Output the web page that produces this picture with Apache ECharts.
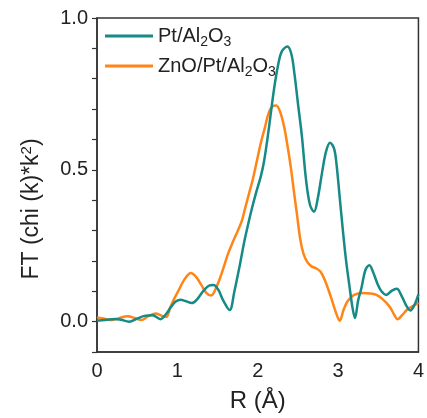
<!DOCTYPE html>
<html>
<head>
<meta charset="utf-8">
<script src="https://cdn.jsdelivr.net/npm/echarts@6/dist/echarts.min.js"></script>
<style>html,body{margin:0;padding:0;background:#fff}#c{width:427px;height:418px}</style>
</head>
<body>
<div id="c"></div>
<script>
var seriesNames = ['Pt/Al2O3', 'ZnO/Pt/Al2O3'];
var xTicks = [0, 1, 2, 3, 4];
var yTickLabels = ['0.0', '0.5', '1.0'];

var ptAl2O3 = [[0,0.003],[0.1,0.005],[0.22,0.009],[0.3,0.006],[0.4,0.0],[0.5,0.01],[0.59,0.019],[0.69,0.021],[0.79,0.008],[0.86,0.025],[0.92,0.048],[0.98,0.066],[1.04,0.072],[1.1,0.068],[1.18,0.061],[1.25,0.075],[1.32,0.10],[1.39,0.118],[1.45,0.121],[1.51,0.105],[1.57,0.07],[1.65,0.038],[1.71,0.10],[1.78,0.19],[1.83,0.26],[1.88,0.32],[1.93,0.375],[1.98,0.425],[2.04,0.48],[2.08,0.53],[2.12,0.6],[2.16,0.68],[2.2,0.76],[2.25,0.84],[2.3,0.89],[2.37,0.906],[2.42,0.88],[2.46,0.81],[2.5,0.72],[2.55,0.61],[2.6,0.47],[2.65,0.385],[2.7,0.362],[2.75,0.41],[2.8,0.49],[2.85,0.56],[2.9,0.589],[2.95,0.57],[2.98,0.52],[3.02,0.41],[3.06,0.3],[3.1,0.2],[3.14,0.12],[3.18,0.045],[3.21,0.012],[3.25,0.07],[3.29,0.11],[3.34,0.17],[3.39,0.186],[3.44,0.16],[3.49,0.125],[3.54,0.1],[3.6,0.088],[3.67,0.102],[3.73,0.108],[3.79,0.085],[3.85,0.052],[3.9,0.037],[3.95,0.055],[4.0,0.09]];

var znoPtAl2O3 = [[0,0.014],[0.08,0.01],[0.18,0.005],[0.28,0.012],[0.38,0.018],[0.47,0.012],[0.55,0.005],[0.64,0.018],[0.73,0.027],[0.8,0.02],[0.86,0.015],[0.91,0.045],[0.96,0.075],[1.02,0.105],[1.09,0.14],[1.17,0.16],[1.24,0.145],[1.3,0.12],[1.36,0.095],[1.42,0.086],[1.48,0.11],[1.55,0.158],[1.63,0.223],[1.69,0.262],[1.75,0.298],[1.8,0.33],[1.84,0.37],[1.89,0.42],[1.94,0.47],[1.99,0.53],[2.04,0.59],[2.09,0.64],[2.14,0.69],[2.19,0.71],[2.23,0.712],[2.28,0.69],[2.33,0.64],[2.37,0.58],[2.41,0.512],[2.45,0.43],[2.49,0.35],[2.53,0.27],[2.57,0.223],[2.62,0.195],[2.67,0.182],[2.73,0.175],[2.78,0.165],[2.83,0.14],[2.88,0.105],[2.93,0.065],[2.98,0.025],[3.02,0.003],[3.07,0.04],[3.12,0.068],[3.2,0.088],[3.31,0.094],[3.4,0.093],[3.47,0.089],[3.55,0.075],[3.64,0.05],[3.7,0.022],[3.74,0.008],[3.8,0.022],[3.86,0.04],[3.92,0.05],[4.0,0.062]];

var colors = ['#168a86', '#ff8517'];
var FONT = 'Liberation Sans, Arial, sans-serif';
var textColor = '#222';

var chart = echarts.init(document.getElementById('c'), null, {renderer: 'canvas'});

function legendFmt(name) {
  if (name === 'Pt/Al2O3') return '{n|Pt/Al}{s|2}{n|O}{s|3}';
  return '{n|ZnO/Pt/Al}{s|2}{n|O}{s|3}';
}

chart.setOption({
  animation: false,
  backgroundColor: '#fff',
  grid: {left: 97, right: 4, top: 18, bottom: 58, show: true, borderColor: '#333', borderWidth: 1.5, containLabel: false},
  legend: {
    orient: 'vertical', left: 100, top: 20, itemGap: 6,
    itemWidth: 48, itemHeight: 3, icon: 'rect',
    data: seriesNames,
    formatter: legendFmt,
    textStyle: {
      color: textColor, fontFamily: FONT, fontSize: 20,
      rich: {
        n: {fontFamily: FONT, fontSize: 20, color: textColor, lineHeight: 26},
        s: {fontFamily: FONT, fontSize: 14, color: textColor, verticalAlign: 'bottom', padding: [10, 0, 0, 0], lineHeight: 26}
      }
    }
  },
  xAxis: {
    type: 'value', min: 0, max: 4, interval: 1,
    name: 'R (Å)', nameLocation: 'middle', nameGap: 37,
    nameTextStyle: {fontFamily: FONT, fontSize: 24, color: textColor},
    axisLine: {show: true, onZero: false, lineStyle: {color: '#333', width: 1.5}},
    axisTick: {show: false},
    splitLine: {show: false},
    axisLabel: {margin: 9, fontFamily: FONT, fontSize: 20, color: textColor,
      formatter: function (v) { return xTicks.indexOf(v) >= 0 ? String(v) : ''; }}
  },
  yAxis: {
    type: 'value', min: -0.1, max: 1.0, interval: 0.1,
    name: '{n|FT (chi (k)*k}{s|2}{n|)}', nameLocation: 'middle', nameGap: 52,
    nameTextStyle: {fontFamily: FONT, fontSize: 23, color: textColor, padding: [0, 48, 0, 0],
      rich: {
        n: {fontFamily: FONT, fontSize: 23, color: textColor},
        s: {fontFamily: FONT, fontSize: 15, color: textColor, verticalAlign: 'top', padding: [0, 0, 11, 0]}
      }},
    axisLine: {show: true, onZero: false, lineStyle: {color: '#333', width: 1.5}},
    axisTick: {show: true, length: 5, lineStyle: {color: '#333', width: 1.2}},
    splitLine: {show: false},
    axisLabel: {margin: 9, fontFamily: FONT, fontSize: 20, color: textColor,
      formatter: function (v) {
        var s = (Math.round(v * 10) / 10).toFixed(1);
        return yTickLabels.indexOf(s) >= 0 ? s : '';
      }}
  },
  series: [
    {name: seriesNames[0], type: 'line', data: ptAl2O3, smooth: 0.35, symbol: 'none',
      lineStyle: {color: colors[0], width: 2.5}, itemStyle: {color: colors[0]}, z: 3},
    {name: seriesNames[1], type: 'line', data: znoPtAl2O3, smooth: 0.35, symbol: 'none',
      lineStyle: {color: colors[1], width: 2.5}, itemStyle: {color: colors[1]}, z: 2}
  ]
});
</script>
</body>
</html>
